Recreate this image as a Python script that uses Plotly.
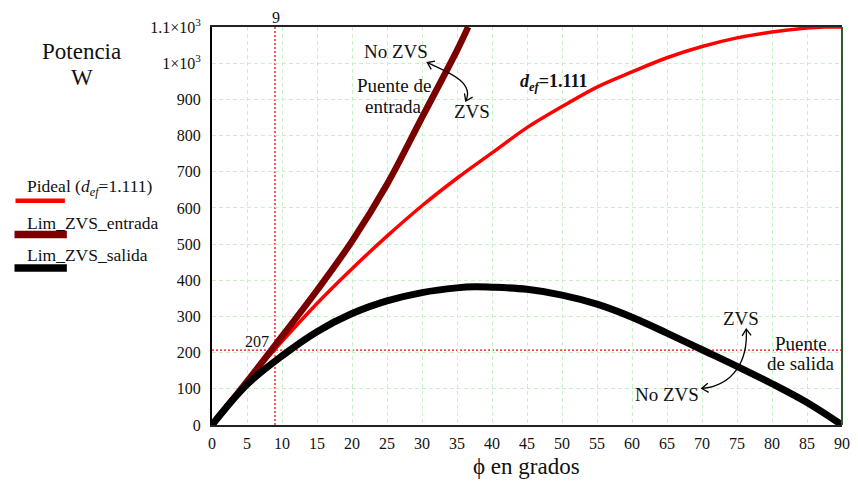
import math
import plotly.graph_objects as go

# ---------------- data ----------------
phi = [0, 5, 10, 15, 20, 25, 30, 35, 40, 45, 50, 55, 60, 65, 70, 75, 80, 85, 87.5, 90]
p_ideal = [0, 120, 231, 336, 432, 522, 606, 682, 752, 822, 880, 934, 976, 1015, 1046, 1070, 1086, 1097, 1100, 1100]

phi_ent = [0, 5, 10, 15, 20, 25, 30, 35, 36.6]
p_ent = [0, 120, 245, 372, 508, 665, 850, 1035, 1100]

phi_sal = [0, 5, 10, 15, 20, 25, 30, 35, 37.5, 40, 45, 50, 55, 60, 65, 70, 75, 80, 85, 90]
p_sal = [0, 112, 191, 258, 308, 343, 366, 379, 382, 381, 375, 359, 334, 298, 254, 208, 162, 114, 62, 0]

x_ticks = list(range(0, 91, 5))
y_ticks = list(range(0, 1101, 100))
y_ticktext = [str(v) for v in y_ticks[:-2]] + ["1×10<sup>3</sup>", "1.1×10<sup>3</sup>"]

phi_mark = 9
p_mark = 207

FONT = "Liberation Serif"

# page geometry: the page body adds an 8px offset, so the figure is 8px smaller
OFF = 8
W, H = 858 - OFF, 486 - OFF
PL, PR, PT, PB = 212, 850, 22, 425          # plot area in page pixels
L, T = PL - OFF, PT - OFF
R = W - (PR - OFF)
B = H - (PB - OFF)
PW, PH = PR - PL, PB - PT
XMAX, YMAX = 90, 1100


def d(px, py):
    """page pixel -> data coordinates (for decorative annotation shapes)."""
    return (px - PL) / PW * XMAX, (PB - py) / PH * YMAX


def pp(px, py):
    """page pixel -> paper coordinates."""
    return (px - PL) / PW, (PB - py) / PH


def curved_arrow(p0, c1, c2, p1):
    shapes = []
    a = d(*p0); b = d(*c1); c = d(*c2); e = d(*p1)
    path = f"M {a[0]},{a[1]} C {b[0]},{b[1]} {c[0]},{c[1]} {e[0]},{e[1]}"
    shapes.append(dict(type="path", path=path, xref="x", yref="y",
                       line=dict(color="black", width=1.3)))
    for tip, ctrl in ((p0, c1), (p1, c2)):
        dx, dy = tip[0] - ctrl[0], tip[1] - ctrl[1]
        n = math.hypot(dx, dy)
        ux, uy = dx / n, dy / n
        ln = 8
        pts = []
        for ang in (math.radians(35), -math.radians(35)):
            rx = -(ux * math.cos(ang) - uy * math.sin(ang))
            ry = -(ux * math.sin(ang) + uy * math.cos(ang))
            pts.append((tip[0] + rx * ln, tip[1] + ry * ln))
        q1 = d(*pts[0]); t = d(*tip); q2 = d(*pts[1])
        shapes.append(dict(type="path", xref="x", yref="y",
                           path=f"M {q1[0]},{q1[1]} L {t[0]},{t[1]} L {q2[0]},{q2[1]}",
                           line=dict(color="black", width=1.3)))
    return shapes


fig = go.Figure()
fig.add_trace(go.Scatter(x=phi, y=p_ideal, mode="lines", line=dict(color="#ff0000", width=3.5, shape="spline"),
                         name="Pideal", showlegend=False))
fig.add_trace(go.Scatter(x=phi_ent, y=p_ent, mode="lines", line=dict(color="#7a0000", width=6.5, shape="spline"),
                         name="Lim_ZVS_entrada", showlegend=False))
fig.add_trace(go.Scatter(x=phi_sal, y=p_sal, mode="lines", line=dict(color="#000000", width=7, shape="spline"),
                         name="Lim_ZVS_salida", showlegend=False))

shapes = []
# reference dotted lines
shapes.append(dict(type="line", xref="x", yref="y", x0=phi_mark, x1=phi_mark, y0=0, y1=YMAX,
                   line=dict(color="#ff0000", width=1.3, dash="2px,2px"), layer="below"))
shapes.append(dict(type="line", xref="x", yref="y", x0=0, x1=XMAX, y0=p_mark, y1=p_mark,
                   line=dict(color="#ff0000", width=1.3, dash="2px,2px"), layer="below"))
# right border (dark green)
shapes.append(dict(type="line", xref="paper", yref="paper", x0=1, x1=1, y0=0, y1=1,
                   line=dict(color="#2f5a2f", width=2)))

# curved arrows
shapes += curved_arrow((430, 58), (452, 68), (478, 78), (469, 97))
shapes += curved_arrow((753, 328), (755, 360), (740, 385), (708, 388))

# custom legend lines
leg = [((13, 63), 198, "#ff0000", 4.5), ((12, 65), 232, "#7a0000", 7.5), ((12, 65), 266, "#000000", 7.5)]
for (xa, xb), yy, col, wd in leg:
    a = pp(xa, yy); b = pp(xb, yy)
    shapes.append(dict(type="line", xref="paper", yref="paper", x0=a[0], x1=b[0], y0=a[1], y1=b[1],
                       line=dict(color=col, width=wd)))

ann = []


def txt(px, py, text, size=16, xanchor="center"):
    x, y = pp(px, py)
    ann.append(dict(x=x, y=y, xref="paper", yref="paper", text=text, showarrow=False,
                    xanchor=xanchor, yanchor="middle",
                    font=dict(family=FONT, size=size, color="#111")))


# legend texts
txt(23, 185, "Pideal (<i>d<sub>ef</sub></i>=1.111)", 17.5, "left")
txt(23, 220, "Lim_ZVS_entrada", 17.5, "left")
txt(23, 253, "Lim_ZVS_salida", 17.5, "left")

# y axis title
txt(80, 47, "Potencia", 23)
txt(80, 73, "W", 23)

# x axis title
txt(530, 467, "ϕ en grados", 23)

# marker labels
txt(277, 12, str(phi_mark), 16)
txt(258, 340, str(p_mark), 16)

# in-plot annotations
txt(398, 47, "No ZVS", 19)
txt(396, 81, "Puente de", 19)
txt(395, 103, "entrada", 19)
txt(475, 108, "ZVS", 19)
txt(558, 78, "<b><i>d<sub>ef</sub></i>=1.111</b>", 18)
txt(748, 317, "ZVS", 19)
txt(808, 342, "Puente", 19)
txt(808, 363, "de salida", 19)
txt(673, 394, "No ZVS", 19)

grid = dict(showgrid=True, gridcolor="#c6f2c6", griddash="4px,3px", gridwidth=1)

fig.update_layout(
    width=W, height=H,
    margin=dict(l=L, r=R, t=T, b=B, pad=0),
    paper_bgcolor="white", plot_bgcolor="white",
    font=dict(family=FONT, size=16, color="#111"),
    shapes=shapes, annotations=ann,
    xaxis=dict(range=[0, XMAX], tickvals=x_ticks, zeroline=False, showline=True, linecolor="#222",
               linewidth=2, mirror=True, ticks="outside", ticklen=3, tickcolor="rgba(0,0,0,0)",
               tickfont=dict(family=FONT, size=16), **grid),
    yaxis=dict(range=[0, YMAX], tickvals=y_ticks, ticktext=y_ticktext, zeroline=False, showline=True,
               linecolor="#000", linewidth=2, ticks="outside", ticklen=6, tickcolor="rgba(0,0,0,0)",
               tickfont=dict(family=FONT, size=16), **grid),
)

fig.write_html("out.html")
